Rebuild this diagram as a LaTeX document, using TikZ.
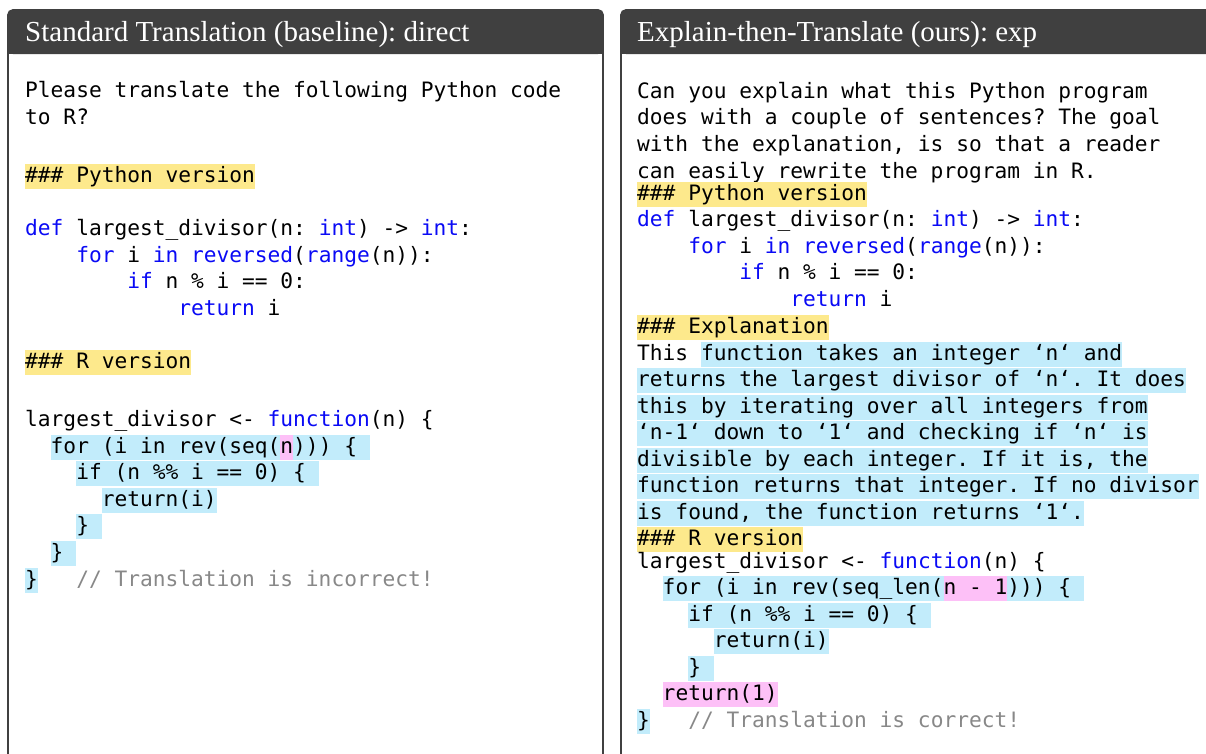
\documentclass[tikz,border=0pt]{standalone}
\usepackage{fontspec}
\usepackage{xcolor}
\setmainfont{Liberation Serif}
\newfontfamily\codefont{DejaVu Sans Mono}
\frenchspacing

\definecolor{hdrgray}{HTML}{404040}
\definecolor{hlyellow}{HTML}{FDE98C}
\definecolor{hlblue}{HTML}{C2ECFB}
\definecolor{hlpink}{HTML}{FDC0F7}
\definecolor{kwblue}{HTML}{0A0AF5}
\definecolor{cmtgray}{HTML}{888888}

\newcommand{\hlstrut}{\rule[-6.5pt]{0pt}{25pt}}
\newcommand{\hly}[1]{{\fboxsep=0pt\colorbox{hlyellow}{\hlstrut#1}}}
\newcommand{\hlb}[1]{{\fboxsep=0pt\colorbox{hlblue}{\hlstrut#1}}}
\newcommand{\hlp}[1]{{\fboxsep=0pt\colorbox{hlpink}{\hlstrut#1}}}
\newcommand{\kw}[1]{\textcolor{kwblue}{#1}}
\newcommand{\cmt}[1]{\textcolor{cmtgray}{#1}}

\tikzset{
  code/.style={anchor=base west, inner sep=0pt, yshift=-1.5pt, font=\codefont\fontsize{21.2}{26.5}\selectfont},
  hdrtext/.style={anchor=base west, inner sep=0pt, text=white, font=\fontsize{29}{32}\selectfont},
}

\begin{document}
\begin{tikzpicture}[x=1pt, y=-1pt]
  \clip (0,0) rectangle (1206,753);
  \fill[white] (0,0) rectangle (1206,753);

  % two panels, left edge / right edge
  \foreach \xa/\xb in {8/603, 621/1230}{
    \fill[hdrgray, rounded corners=5pt] (\xa,10) rectangle (\xb,54);
    \fill[hdrgray] (\xa,40) rectangle (\xb,54);
    \draw[hdrgray, line width=1.8pt, rounded corners=5pt] (\xa,780) -- (\xa,10) -- (\xb,10) -- (\xb,780);
  }

  \node[hdrtext] (hleft) at (25,41) {Standard Translation (baseline): direct};
  \node[hdrtext] (hright) at (637,41) {Explain-then-Translate (ours): exp};

  % direct
  \node[code] (p1) at (25,96) {Please translate the following Python code};
  \node[code] (p2) at (25,123) {to R?};
  \node[code] (p3) at (25,181) {\hly{\#\#\# Python version}};
  \node[code] (p4) at (25,234) {\kw{def} largest\_divisor(n: \kw{int}) -> \kw{int}:};
  \node[code] (p5) at (25,261) {\ \ \ \ \kw{for} i \kw{in} \kw{reversed}(\kw{range}(n)):};
  \node[code] (p6) at (25,287) {\ \ \ \ \ \ \ \ \kw{if} n \% i == 0:};
  \node[code] (p7) at (25,314) {\ \ \ \ \ \ \ \ \ \ \ \ \kw{return} i};
  \node[code] (p8) at (25,367) {\hly{\#\#\# R version}};
  \node[code] (p9) at (25,425) {largest\_divisor <- \kw{function}(n) \{};
  \node[code] (p10) at (25,452) {\ \ \hlb{for (i in rev(seq(}\hlp{n}\hlb{))) \{\ }};
  \node[code] (p11) at (25,478) {\ \ \ \ \hlb{if (n \%\% i == 0) \{\ }};
  \node[code] (p12) at (25,505) {\ \ \ \ \ \ \hlb{return(i)}};
  \node[code] (p13) at (25,531) {\ \ \ \ \hlb{\}\ }};
  \node[code] (p14) at (25,558) {\ \ \hlb{\}\ }};
  \node[code] (p15) at (25,585) {\hlb{\}}\ \ \ \cmt{// Translation is incorrect!}};

  % exp
  \node[code] (q1) at (637,97) {Can you explain what this Python program};
  \node[code] (q2) at (637,123) {does with a couple of sentences? The goal};
  \node[code] (q3) at (637,150) {with the explanation, is so that a reader};
  \node[code] (q4) at (637,177) {can easily rewrite the program in R.};
  \node[code] (q5) at (637,199) {\hly{\#\#\# Python version}};
  \node[code] (q6) at (637,225) {\kw{def} largest\_divisor(n: \kw{int}) -> \kw{int}:};
  \node[code] (q7) at (637,252) {\ \ \ \ \kw{for} i \kw{in} \kw{reversed}(\kw{range}(n)):};
  \node[code] (q8) at (637,278) {\ \ \ \ \ \ \ \ \kw{if} n \% i == 0:};
  \node[code] (q9) at (637,305) {\ \ \ \ \ \ \ \ \ \ \ \ \kw{return} i};
  \node[code] (q10) at (637,332) {\hly{\#\#\# Explanation}};
  \node[code] (q11) at (637,359) {This \hlb{function takes an integer ‘n‘ and}};
  \node[code] (q12) at (637,385) {\hlb{returns the largest divisor of ‘n‘. It does}};
  \node[code] (q13) at (637,412) {\hlb{this by iterating over all integers from}};
  \node[code] (q14) at (637,438) {\hlb{‘n-1‘ down to ‘1‘ and checking if ‘n‘ is}};
  \node[code] (q15) at (637,465) {\hlb{divisible by each integer. If it is, the}};
  \node[code] (q16) at (637,491) {\hlb{function returns that integer. If no divisor}};
  \node[code] (q17) at (637,518) {\hlb{is found, the function returns ‘1‘.}};
  \node[code] (q18) at (637,544) {\hly{\#\#\# R version}};
  \node[code] (q19) at (637,567) {largest\_divisor <- \kw{function}(n) \{};
  \node[code] (q20) at (637,593) {\ \ \hlb{for (i in rev(seq\_len(}\hlp{n - 1}\hlb{))) \{\ }};
  \node[code] (q21) at (637,620) {\ \ \ \ \hlb{if (n \%\% i == 0) \{\ }};
  \node[code] (q22) at (637,646) {\ \ \ \ \ \ \hlb{return(i)}};
  \node[code] (q23) at (637,673) {\ \ \ \ \hlb{\}\ }};
  \node[code] (q24) at (637,699) {\ \ \hlp{return(1)}};
  \node[code] (q25) at (637,726) {\hlb{\}}\ \ \ \cmt{// Translation is correct!}};
\end{tikzpicture}
\end{document}
